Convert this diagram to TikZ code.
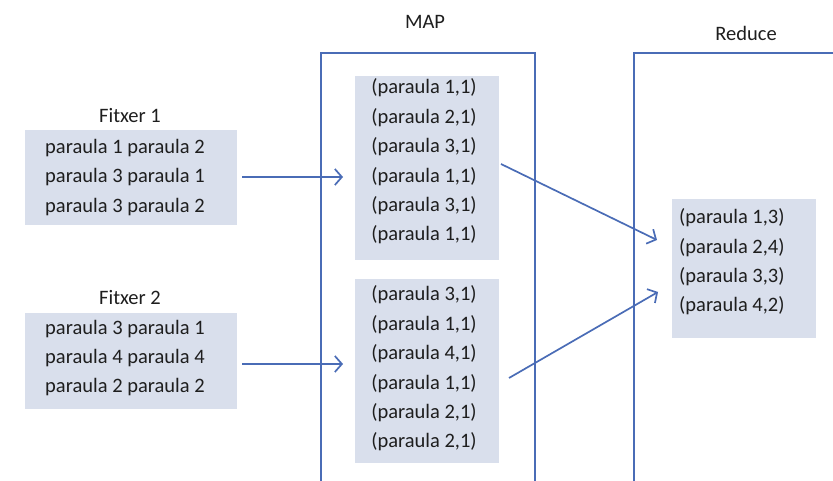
\documentclass[tikz,border=0pt]{standalone}
\usepackage{fontspec}
\setmainfont{Carlito}
\usetikzlibrary{arrows.meta}
\definecolor{boxfill}{HTML}{D9DFEC}
\definecolor{lineblue}{HTML}{4A6CB6}
\definecolor{txtcol}{HTML}{1E1E1E}
\begin{document}
\begin{tikzpicture}[x=1pt,y=-1pt,
  box/.style={fill=boxfill, draw=none, inner sep=0pt},
  txt/.style={text=txtcol, font=\fontsize{20.5}{29.4}\selectfont, inner sep=0pt},
  lbl/.style={text=txtcol, font=\fontsize{20.5}{24}\selectfont, inner sep=0pt},
  conn/.style={draw=lineblue, line width=1.7pt, -{Straight Barb[length=7pt,width=16pt,line width=1.7pt]}},
  frame/.style={draw=lineblue, line width=1.7pt}
]
\useasboundingbox (0,0) rectangle (833,481);

% frames
\draw[frame] (321,481) -- (321,53) -- (535,53) -- (535,481);
\draw[frame] (634,481) -- (634,53) -- (833,53);
\node[lbl] (maplbl) at (425,22) {MAP};
\node[lbl] (redlbl) at (746,33) {Reduce};

% input files
\node[lbl] (f1lbl) at (130,116) {Fitxer 1};
\node[box, minimum width=212pt, minimum height=95pt] (f1) at (131,177.5) {};
\node[txt, align=center] (f1t) at (125,177.5) {paraula 1 paraula 2\\paraula 3 paraula 1\\paraula 3 paraula 2};

\node[lbl] (f2lbl) at (130,298) {Fitxer 2};
\node[box, minimum width=212pt, minimum height=96pt] (f2) at (131,361) {};
\node[txt, align=center] (f2t) at (125,358) {paraula 3 paraula 1\\paraula 4 paraula 4\\paraula 2 paraula 2};

% map boxes
\node[box, minimum width=144pt, minimum height=184pt] (ma) at (427,168) {};
\node[txt, align=center] (mat) at (424,161.5) {(paraula 1,1)\\(paraula 2,1)\\(paraula 3,1)\\(paraula 1,1)\\(paraula 3,1)\\(paraula 1,1)};

\node[box, minimum width=144pt, minimum height=184pt] (mb) at (427,371) {};
\node[txt, align=center] (mbt) at (424,368.5) {(paraula 3,1)\\(paraula 1,1)\\(paraula 4,1)\\(paraula 1,1)\\(paraula 2,1)\\(paraula 2,1)};

% reduce box
\node[box, minimum width=144pt, minimum height=139pt] (rd) at (744,268.5) {};
\node[txt, align=left, anchor=west] (rdt) at (679,262) {(paraula 1,3)\\(paraula 2,4)\\(paraula 3,3)\\(paraula 4,2)};

% connectors
\coordinate (a1s) at (242,177);
\coordinate (a1e) at (343,177);
\coordinate (a2s) at (242,364);
\coordinate (a2e) at (343,364);
\coordinate (a3s) at (501,164);
\coordinate (a3e) at (657,240);
\coordinate (a4s) at (509,378);
\coordinate (a4e) at (658,292);
\draw[conn] (a1s) -- (a1e);
\draw[conn] (a2s) -- (a2e);
\draw[conn] (a3s) -- (a3e);
\draw[conn] (a4s) -- (a4e);
\end{tikzpicture}
\end{document}
